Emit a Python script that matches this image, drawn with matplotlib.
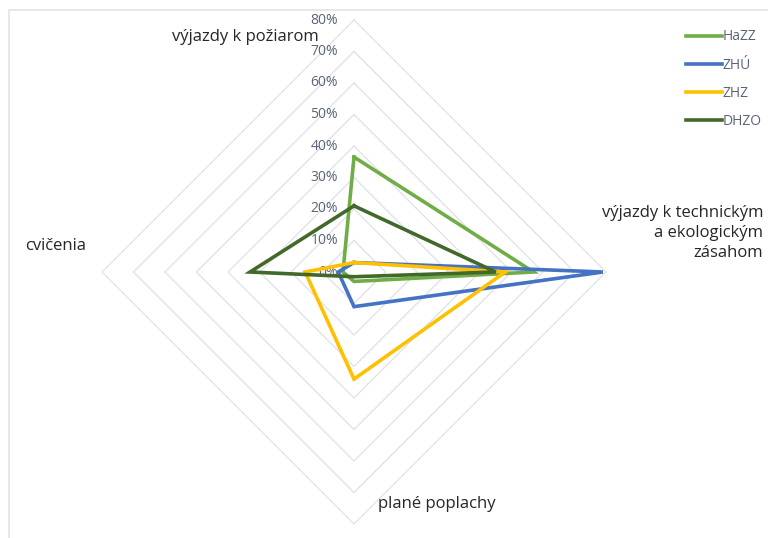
import matplotlib
matplotlib.use("Agg")
import matplotlib.pyplot as plt
import numpy as np
from matplotlib.lines import Line2D
from matplotlib.patches import Rectangle

plt.rcParams['font.family'] = ['Open Sans', 'DejaVu Sans']

categories = ["výjazdy k požiarom", "výjazdy k technickým\na ekologickým\nzásahom",
              "plané poplachy", "cvičenia"]
series_names = ["HaZZ", "ZHÚ", "ZHZ", "DHZO"]
hazz = [36.5, 57, 3, 3.5]
zhu = [3, 79, 11, 5]
zhz = [3, 48, 34, 15.5]
dhzo = [21, 45, 1.5, 33]
colors = ["#70ad47", "#4472c4", "#ffc000", "#43682b"]
tick_values = [0, 10, 20, 30, 40, 50, 60, 70, 80]
tick_labels = ["0%", "10%", "20%", "30%", "40%", "50%", "60%", "70%", "80%"]

W, H = 768, 538
cx, cy = 354, 272          # centre in pixels (from top)
scale = 3.15               # px per percent

fig = plt.figure(figsize=(W / 100, H / 100), dpi=100)
ax = fig.add_axes([0, 0, 1, 1])
ax.set_xlim(-cx / scale, (W - cx) / scale)
ax.set_ylim(-(H - cy) / scale, cy / scale)
ax.axis("off")

angles = np.array([0, 90, 180, 270]) * np.pi / 180.0


def to_xy(vals):
    v = np.array(vals + vals[:1], dtype=float)
    a = np.concatenate([angles, angles[:1]])
    return v * np.sin(a), v * np.cos(a)


# chart frame (light border)
fx0 = -(cx - 9) / scale
fy1 = (cy - 10) / scale
ax.add_patch(Rectangle((fx0, -200), 400, fy1 + 200, fill=False,
                       edgecolor="#e3e3e3", lw=1.2, zorder=0))

# grid diamonds
for t in tick_values[1:]:
    x, y = to_xy([t, t, t, t])
    ax.plot(x, y, color="#e0e3e7", lw=1.0, zorder=1)

# tick labels
for t, lab in zip(tick_values, tick_labels):
    ax.text(-16 / scale, t, lab, ha="right", va="center",
            fontsize=10, color="#5a6478", zorder=2)

# series
for vals, col in zip([hazz, zhu, zhz, dhzo], colors):
    x, y = to_xy(vals)
    ax.plot(x, y, color=col, lw=2.6, solid_joinstyle="miter", zorder=3)


def px(xp, yp):
    return (xp - cx) / scale, (cy - yp) / scale


# category labels
fs = 12
tx, ty = px(319, 37)
ax.text(tx, ty, categories[0], ha="right", va="center", fontsize=fs, color="#262626")
tx, ty = px(763, 233)
ax.text(tx, ty, categories[1], ha="right", va="center", fontsize=fs, color="#262626",
        linespacing=1.3, multialignment="right")
tx, ty = px(437, 504)
ax.text(tx, ty, categories[2], ha="center", va="center", fontsize=fs, color="#262626")
tx, ty = px(25, 246)
ax.text(tx, ty, categories[3], ha="left", va="center", fontsize=fs, color="#262626")

# legend
handles = [Line2D([0], [0], color=c, lw=2.6) for c in colors]
leg = fig.legend(handles, series_names, loc="upper left",
                 bbox_to_anchor=(673 / W, 1 - 17 / H), frameon=False,
                 fontsize=10, handlelength=2.6, handletextpad=0.05,
                 labelspacing=0.95, labelcolor="#5a6478")

fig.savefig("out.png", dpi=100)
